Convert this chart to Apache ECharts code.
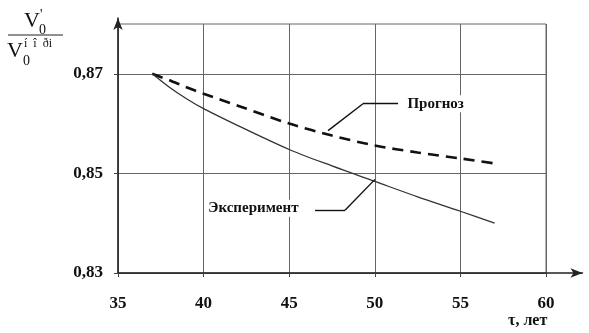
<!DOCTYPE html>
<html>
<head>
<meta charset="utf-8">
<script src="https://cdn.jsdelivr.net/npm/echarts@6/dist/echarts.min.js"></script>
<style>
  html, body { margin: 0; padding: 0; background: #fff; }
  #chart { width: 589px; height: 333px; }
</style>
</head>
<body>
<div id="chart"></div>
<script>
// Service life, years
const years = [37, 38, 39, 40, 42, 45, 47.5, 50, 52.5, 55, 57];
// Measured relative value
const experiment = [0.8700, 0.8673, 0.8650, 0.8630, 0.8596, 0.8548, 0.8515, 0.8484, 0.8453, 0.8424, 0.8400];
// Forecast relative value
const forecast = [0.8700, 0.8687, 0.8673, 0.8660, 0.8636, 0.8600, 0.8576, 0.8556, 0.8542, 0.8530, 0.8520];
// Axis ticks
const xTicks = [35, 40, 45, 50, 55, 60];
const yTicks = [0.83, 0.85, 0.87];
const yTop = 0.88;

const SERIF = 'Liberation Serif';
const chart = echarts.init(document.getElementById('chart'), null, { renderer: 'canvas' });

const pairs = arr => years.map((x, i) => [x, arr[i]]);
const fmt = v => v.toFixed(2).replace('.', ',');

const leaderStyle = { color: '#111', width: 1.4, type: 'solid' };

chart.setOption({
  animation: false,
  backgroundColor: '#fff',
  grid: [
    // plotting frame 35..60 x 0.83..0.88
    { left: 118, top: 24, width: 428, height: 249, show: true, borderColor: '#666', borderWidth: 1, backgroundColor: 'transparent' },
    // arrowed axis lines running past the frame
    { left: 118, top: 18, width: 464.5, height: 255, show: false }
  ],
  xAxis: [
    {
      gridIndex: 0, type: 'value', min: xTicks[0], max: xTicks[xTicks.length - 1], interval: 5,
      axisLine: { show: false },
      axisTick: { show: true, length: 4, lineStyle: { color: '#444', width: 1 } },
      axisLabel: { fontFamily: SERIF, fontSize: 17, fontWeight: 'bold', color: '#111', margin: 22 },
      splitLine: { show: true, lineStyle: { color: '#666', width: 1 } }
    },
    {
      gridIndex: 1, type: 'value', min: 0, max: 1,
      axisLine: { show: true, symbol: ['none', 'arrow'], symbolSize: [7, 12], lineStyle: { color: '#222', width: 1.5 } },
      axisTick: { show: false }, axisLabel: { show: false }, splitLine: { show: false }
    }
  ],
  yAxis: [
    {
      gridIndex: 0, type: 'value', min: yTicks[0], max: yTop, interval: 0.02,
      axisLine: { show: false },
      axisTick: { show: true, length: 4, customValues: yTicks, lineStyle: { color: '#444', width: 1 } },
      axisLabel: {
        customValues: yTicks,
        fontFamily: SERIF, fontSize: 17, fontWeight: 'bold', color: '#111', margin: 15,
        formatter: v => (Math.abs(v - yTop) < 1e-9 ? '' : fmt(v))
      },
      splitLine: { show: true, lineStyle: { color: '#666', width: 1 } }
    },
    {
      gridIndex: 1, type: 'value', min: 0, max: 1,
      axisLine: { show: true, symbol: ['none', 'arrow'], symbolSize: [7, 12], lineStyle: { color: '#222', width: 1.5 } },
      axisTick: { show: false }, axisLabel: { show: false }, splitLine: { show: false }
    }
  ],
  series: [
    {
      name: 'Прогноз', type: 'line', xAxisIndex: 0, yAxisIndex: 0,
      data: pairs(forecast), symbol: 'none', smooth: 0.3,
      lineStyle: { color: '#111', width: 2.6, type: [11, 7] },
      markLine: {
        silent: true, symbol: ['none', 'none'], label: { show: false },
        lineStyle: leaderStyle,
        data: [
          [{ coord: [47.27, 0.8586] }, { coord: [49.31, 0.864] }],
          [{ coord: [49.31, 0.864] }, { coord: [51.36, 0.864] }]
        ]
      },
      markPoint: {
        silent: true, symbol: 'circle', symbolSize: 1, itemStyle: { color: 'rgba(0,0,0,0)' },
        label: {
          show: true, position: 'right', distance: 1, formatter: 'Прогноз',
          fontFamily: SERIF, fontSize: 15, fontWeight: 'bold', color: '#111',
          backgroundColor: '#fff', padding: [1, 2]
        },
        data: [{ coord: [51.7, 0.864] }]
      }
    },
    {
      name: 'Эксперимент', type: 'line', xAxisIndex: 0, yAxisIndex: 0,
      data: pairs(experiment), symbol: 'none', smooth: 0.3,
      lineStyle: { color: '#333', width: 1.3 },
      markLine: {
        silent: true, symbol: ['none', 'none'], label: { show: false },
        lineStyle: leaderStyle,
        data: [
          [{ coord: [46.51, 0.8426] }, { coord: [48.26, 0.8426] }],
          [{ coord: [48.26, 0.8426] }, { coord: [50.01, 0.8488] }]
        ]
      },
      markPoint: {
        silent: true, symbol: 'circle', symbolSize: 1, itemStyle: { color: 'rgba(0,0,0,0)' },
        label: {
          show: true, position: 'left', distance: 1, formatter: 'Эксперимент',
          fontFamily: SERIF, fontSize: 15, fontWeight: 'bold', color: '#111',
          backgroundColor: '#fff', padding: [1, 2]
        },
        data: [{ coord: [45.75, 0.8430] }]
      }
    }
  ],
  graphic: [
    // axis title: V0' over V0 with superscript
    { type: 'text', x: 24, y: 21, style: { text: 'V', fontFamily: SERIF, fontSize: 22, fill: '#111', verticalAlign: 'middle' } },
    { type: 'text', x: 39, y: 30, style: { text: '0', fontFamily: SERIF, fontSize: 14, fill: '#111', verticalAlign: 'middle' } },
    { type: 'text', x: 40, y: 15, style: { text: "'", fontFamily: SERIF, fontSize: 14, fill: '#111', verticalAlign: 'middle' } },
    { type: 'line', shape: { x1: 8, y1: 35, x2: 63, y2: 35 }, style: { stroke: '#222', lineWidth: 1 } },
    { type: 'text', x: 7, y: 51, style: { text: 'V', fontFamily: SERIF, fontSize: 22, fill: '#111', verticalAlign: 'middle' } },
    { type: 'text', x: 23, y: 61, style: { text: '0', fontFamily: SERIF, fontSize: 14, fill: '#111', verticalAlign: 'middle' } },
    { type: 'text', x: 24, y: 44, style: { text: 'í  î  ði', fontFamily: SERIF, fontSize: 12, fill: '#111', verticalAlign: 'middle' } },
    // x axis title
    { type: 'text', x: 508, y: 321, style: { text: 'τ, лет', fontFamily: SERIF, fontSize: 16, fontWeight: 'bold', fill: '#111', verticalAlign: 'middle' } }
  ]
});
</script>
</body>
</html>
